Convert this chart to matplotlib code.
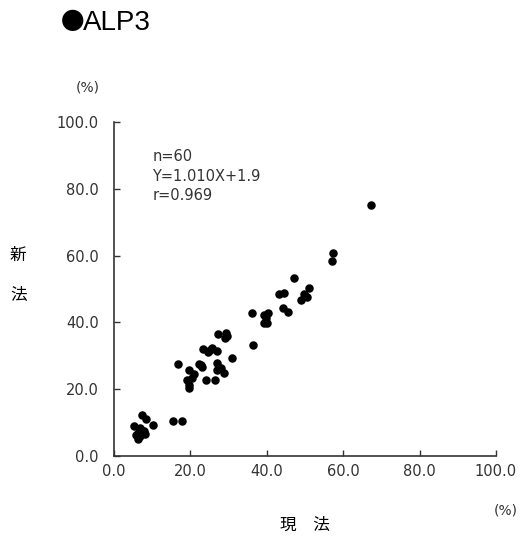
import matplotlib.pyplot as plt

plt.rcParams['font.family'] = ['DejaVu Sans', 'Noto Sans CJK JP']

# current method (x) vs new method (y), %
x_current = [7.3, 8.4, 10.3, 5.3, 6.8, 7.7, 6.2, 6.8, 6.2, 7.0, 5.8, 8.0,
             15.5, 17.9,
             27.3, 29.3, 29.1, 23.4, 24.5, 25.6, 26.9, 30.8, 27.0, 16.7, 22.3,
             23.0, 19.6, 26.9, 28.8, 21.0, 24.1, 26.3, 19.0, 19.5, 19.6,
             25.2, 28.0, 22.8, 20.4,
             57.4, 57.1, 47.1, 51.0, 43.3, 44.5, 49.6, 49.0, 50.4, 44.1, 45.6,
             36.0, 39.3, 40.4, 39.3, 40.0, 36.3, 49.9, 39.8, 29.6,
             67.3]
y_new = [12.3, 11.1, 9.1, 8.8, 8.4, 7.3, 6.8, 5.8, 5.0, 7.8, 6.2, 6.5,
         10.5, 10.5,
         36.5, 36.7, 35.2, 31.9, 31.2, 32.2, 31.5, 29.3, 27.9, 27.5, 27.5,
         26.6, 25.7, 25.7, 24.8, 24.6, 22.8, 22.8, 22.8, 21.3, 20.3,
         31.8, 26.2, 27.2, 23.4,
         60.7, 58.5, 53.2, 50.4, 48.5, 48.7, 48.5, 46.7, 47.5, 44.4, 43.2,
         42.9, 42.2, 42.7, 39.9, 39.9, 33.2, 47.9, 41.2, 36.0,
         75.1]

ticks = [0, 20, 40, 60, 80, 100]
tick_labels = ['0.0', '20.0', '40.0', '60.0', '80.0', '100.0']

fig = plt.figure(figsize=(5.21, 5.4), dpi=100)
ax = fig.add_axes([0.219, 0.156, 0.733, 0.618])

ax.scatter(x_current, y_new, s=26, color='black', zorder=3)

ax.set_xlim(0, 100)
ax.set_ylim(0, 100)
ax.set_xticks(ticks)
ax.set_yticks(ticks)
ax.set_xticklabels(tick_labels)
ax.set_yticklabels(tick_labels)
ax.tick_params(direction='in', length=4, width=1, colors='#333333',
               labelsize=10.5, labelcolor='#333333')
ax.tick_params(axis='x', pad=6)
ax.tick_params(axis='y', pad=11)

for side in ['top', 'right']:
    ax.spines[side].set_visible(False)
for side in ['left', 'bottom']:
    ax.spines[side].set_linewidth(1.2)
    ax.spines[side].set_color('#333333')

# regression stats
ax.text(10, 91.8, 'n=60\nY=1.010X+1.9\nr=0.969', fontsize=10.5, color='#333333',
        va='top', ha='left', linespacing=1.35)

fig.text(0.117, 0.958, '●', fontsize=17, ha='left', va='center',
         family='Noto Sans CJK JP')
fig.text(0.160, 0.957, 'ALP3', fontsize=20, ha='left', va='center',
         family='Liberation Sans')
fig.text(0.168, 0.838, '(%)', fontsize=10, color='#333333', ha='center', va='center')
fig.text(0.97, 0.055, '(%)', fontsize=10, color='#333333', ha='center', va='center')
fig.text(0.035, 0.528, '新', fontsize=12, ha='center', va='center',
         family='Noto Sans CJK JP')
fig.text(0.035, 0.453, '法', fontsize=12, ha='center', va='center',
         family='Noto Sans CJK JP')
fig.text(0.585, 0.028, '現\u3000法', fontsize=12, ha='center', va='center',
         family='Noto Sans CJK JP')

fig.savefig('out.png', dpi=100)
